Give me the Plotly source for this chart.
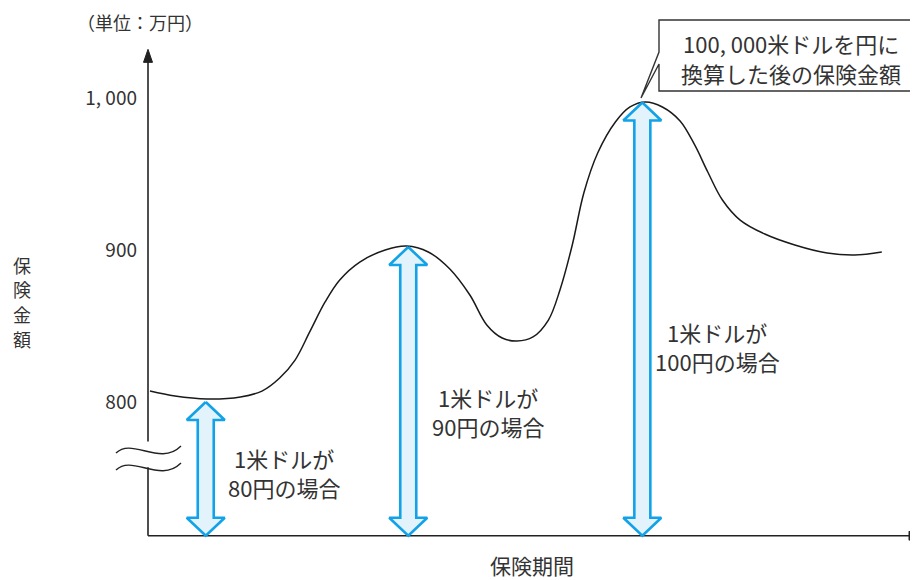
import plotly.graph_objects as go

# ---------------- data ----------------
period = [0.26, 3.5, 7.7, 12.0, 14.8, 17.1, 19.1, 21.0, 23.0, 24.9, 27.5, 30.8, 33.6,
          36.4, 39.2, 41.8, 44.0, 46.0, 47.9, 50.0, 52.0, 53.5, 55.1, 56.6, 58.4, 60.7,
          62.6, 64.6, 66.8, 69.1, 71.0, 72.7, 74.6, 76.9, 80.1, 84.0, 88.2, 91.8, 95.3]
amount = [807.2, 803.9, 802.0, 803.3, 807.2, 815.8, 827.6, 846.1, 865.8, 880.3, 892.1, 900.0, 902.6,
          898.7, 887.5, 870.4, 850.7, 842.1, 840.1, 842.8, 853.9, 873.7, 903.3, 937.5, 963.8, 984.2,
          994.1, 997.4, 994.1, 984.9, 969.1, 951.3, 932.9, 919.7, 910.5, 903.3, 898.0, 896.7, 898.7]

arrow_period = [7.5, 33.8, 64.2]
arrow_amount = [800, 902, 997]
arrow_label_top = ["1米ドルが", "1米ドルが", "1米ドルが"]
arrow_label_bottom = ["80円の場合", "90円の場合", "100円の場合"]

ytick_vals = [800, 900, 1000]
ytick_text = ["800", "900", "1, 000"]

base_amount = 712      # value at which the horizontal axis sits
top_amount = 1032      # top of vertical axis arrow
break_low, break_high = 757, 774   # axis break

# ---------------- scale helpers (screen pixels) ----------------
VW, VH = 918, 580        # browser viewport
OFF = 8                  # default page margin
W, H = VW - OFF, VH - OFF
PX_X0, X_SCALE = 148, 7.7       # screen pixel of period 0, px per unit
PX_Y1000, Y_SCALE = 98, 1.52    # screen pixel of 1000, px per unit


def px2x(px):
    return (px - PX_X0) / X_SCALE


def px2y(py):
    return 1000 - (py - PX_Y1000) / Y_SCALE


def pap_x(px):
    return (px - OFF) / W


def pap_y(py):
    return 1 - (py - OFF) / H


FONT = "Noto Sans CJK JP"
TXT = "#333333"
AX = "#222222"
BLUE = "#12a2e8"
FILL = "#e2f3fb"

fig = go.Figure()

# vertical axis (broken)
fig.add_trace(go.Scatter(x=[0, 0], y=[base_amount, break_low], mode="lines",
                         line=dict(color=AX, width=1.6), hoverinfo="skip", showlegend=False))
fig.add_trace(go.Scatter(x=[0, 0], y=[break_high, top_amount - 10 / Y_SCALE], mode="lines",
                         line=dict(color=AX, width=1.6), hoverinfo="skip", showlegend=False))
ah_w, ah_l = 4.5 / X_SCALE, 13 / Y_SCALE
fig.add_trace(go.Scatter(x=[0, ah_w, -ah_w, 0], y=[top_amount, top_amount - ah_l, top_amount - ah_l, top_amount],
                         mode="lines", fill="toself", fillcolor=AX, line=dict(color=AX, width=1),
                         hoverinfo="skip", showlegend=False))
# horizontal axis
x_end = px2x(917)
fig.add_trace(go.Scatter(x=[0, x_end - 8 / X_SCALE], y=[base_amount, base_amount], mode="lines",
                         line=dict(color=AX, width=1.6), hoverinfo="skip", showlegend=False))
hx_l, hx_w = 8 / X_SCALE, 4.5 / Y_SCALE
fig.add_trace(go.Scatter(x=[x_end, x_end - hx_l, x_end - hx_l, x_end],
                         y=[base_amount, base_amount + hx_w, base_amount - hx_w, base_amount],
                         mode="lines", fill="toself", fillcolor=AX, line=dict(color=AX, width=1),
                         hoverinfo="skip", showlegend=False))

# break symbol (two waves)
shapes = []
for off in (0, 17):
    p = [(116, 453 + off), (132, 437 + off), (160, 467 + off), (181, 446 + off)]
    path = "M {},{} C {},{} {},{} {},{}".format(
        px2x(p[0][0]), px2y(p[0][1]), px2x(p[1][0]), px2y(p[1][1]),
        px2x(p[2][0]), px2y(p[2][1]), px2x(p[3][0]), px2y(p[3][1]))
    shapes.append(dict(type="path", path=path, xref="x", yref="y",
                       line=dict(color=AX, width=1.4)))

# main curve
fig.add_trace(go.Scatter(x=period, y=amount, mode="lines",
                         line=dict(color="#1a1a1a", width=1.5, shape="spline", smoothing=1.0),
                         hoverinfo="skip", showlegend=False))

# double-headed arrows
sw, hw, hl = 8.0 / X_SCALE, 19.0 / X_SCALE, 18.0 / Y_SCALE
for xa, ya in zip(arrow_period, arrow_amount):
    y0, y1 = base_amount, ya
    xs = [xa, xa + hw, xa + sw, xa + sw, xa + hw, xa, xa - hw, xa - sw, xa - sw, xa - hw, xa]
    ys = [y1, y1 - hl, y1 - hl, y0 + hl, y0 + hl, y0, y0 + hl, y0 + hl, y1 - hl, y1 - hl, y1]
    fig.add_trace(go.Scatter(x=xs, y=ys, mode="lines", fill="toself", fillcolor=FILL,
                             line=dict(color=BLUE, width=2.6), hoverinfo="skip", showlegend=False))

# callout box
bx0, bx1, by0, by1 = 659, 930, 20, 91
tipx, tipy = 641, 98
box_path = ("M {},{} L {},{} L {},{} L {},{} L {},{} L {},{} L {},{} Z").format(
    px2x(bx0), px2y(by0), px2x(bx1), px2y(by0), px2x(bx1), px2y(by1), px2x(bx0), px2y(by1),
    px2x(bx0), px2y(64), px2x(tipx), px2y(tipy), px2x(bx0), px2y(52))
shapes.append(dict(type="path", path=box_path, xref="x", yref="y",
                   line=dict(color="#333333", width=1.4), fillcolor="white"))


def ann(x, y, text, size):
    return dict(x=pap_x(x), y=pap_y(y), xref="paper", yref="paper", text=text,
                showarrow=False, xanchor="center", yanchor="middle", align="center",
                font=dict(family=FONT, size=size, color=TXT))


annotations = [ann(791, 43, "100, 000米ドルを円に", 22),
               ann(791, 73, "換算した後の保険金額", 22)]
label_pos = [(284, 458), (488, 397), (717, 332)]
for (lx, ly), t1, t2 in zip(label_pos, arrow_label_top, arrow_label_bottom):
    annotations.append(ann(lx, ly, t1, 22))
    annotations.append(ann(lx, ly + 29, t2, 22))
annotations.append(ann(140, 22, "（単位：万円）", 18))
annotations.append(ann(532, 565, "保険期間", 21))
for i, ch in enumerate("保険金額"):
    annotations.append(ann(22, 265 + 24.5 * i, ch, 18))

fig.update_layout(
    width=W, height=H, margin=dict(l=0, r=0, t=0, b=0),
    paper_bgcolor="white", plot_bgcolor="white",
    xaxis=dict(range=[px2x(OFF), px2x(VW)], visible=False, fixedrange=True),
    yaxis=dict(range=[px2y(VH), px2y(OFF)], anchor="free", position=pap_x(PX_X0),
               tickvals=ytick_vals, ticktext=ytick_text, ticks="", showline=False,
               showgrid=False, zeroline=False, ticklabelstandoff=11,
               tickfont=dict(family=FONT, size=19, color=TXT), fixedrange=True),
    shapes=shapes, annotations=annotations, showlegend=False,
)

fig.write_html("out.html")
